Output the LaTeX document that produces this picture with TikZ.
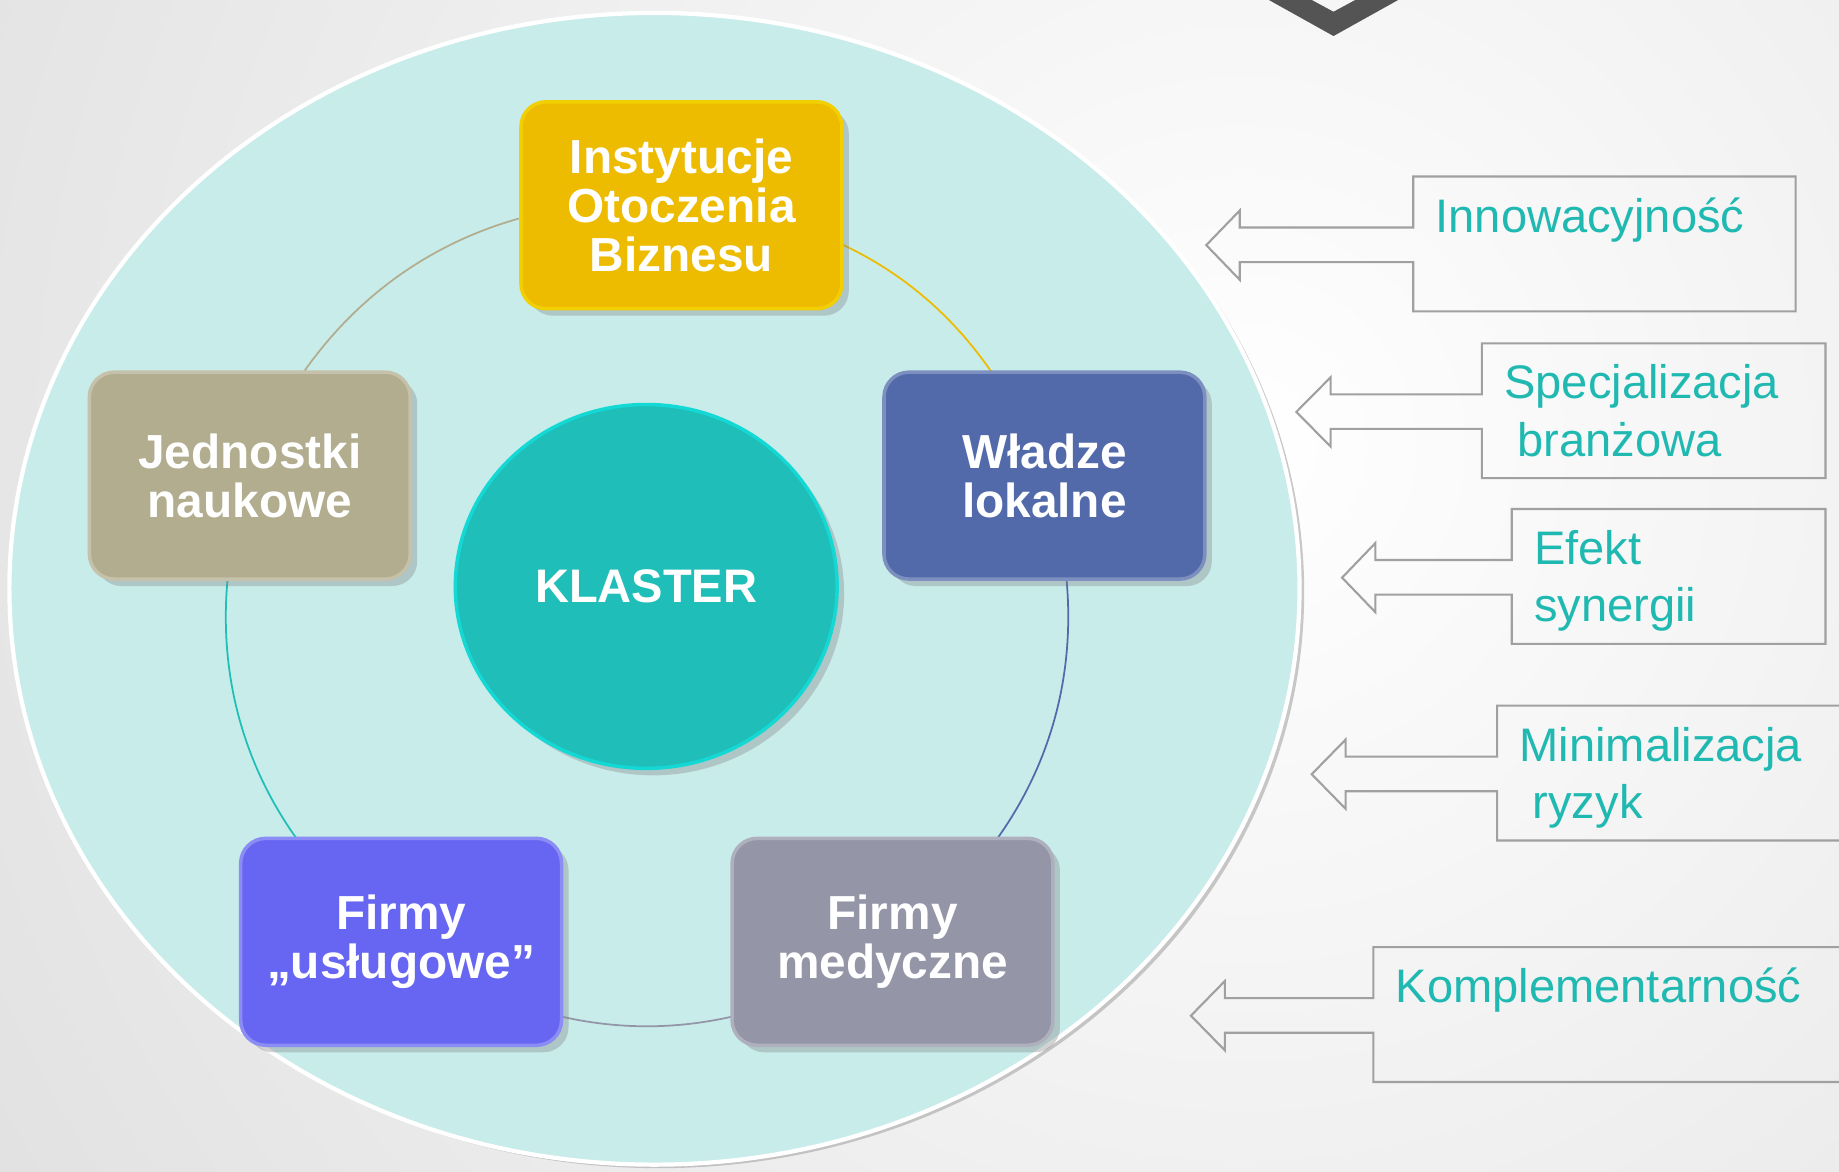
\documentclass[tikz,border=0pt]{standalone}
\usepackage{fontspec}
\setmainfont{Liberation Sans}
\usetikzlibrary{positioning}
\usetikzlibrary{shapes.geometric}
\usetikzlibrary{shadows}
\definecolor{tlo}{HTML}{C8ECEA}
\definecolor{morski}{HTML}{1FBEB8}
\definecolor{zloty}{HTML}{EDBB00}
\definecolor{granat}{HTML}{526AAA}
\definecolor{szary}{HTML}{9496A8}
\definecolor{fiolet}{HTML}{6666F2}
\definecolor{oliwka}{HTML}{B1AD8E}
\definecolor{napis}{HTML}{20B9B2}
\definecolor{ramka}{HTML}{A0A0A0}
\pgfdeclarelayer{back}
\pgfdeclarelayer{ring}
\pgfsetlayers{back,ring,main}
\tikzset{box/.style={rounded corners=0.25cm, minimum width=3.21cm, minimum height=2.07cm, align=center, text=white, line width=1pt,
  font=\fontsize{13.6}{14}\selectfont\bfseries, drop shadow={shadow xshift=0.7mm, shadow yshift=-0.7mm, opacity=0.35}}}
\tikzset{rg/.style={line width=0.5pt}}
\tikzset{callout/.style={draw=ramka, line width=0.6pt}}
\tikzset{cltext/.style={anchor=base west, inner sep=0pt, text=napis, align=left, font=\fontsize{13.4}{16.3}\selectfont}}

\begin{document}
\begin{tikzpicture}[x=0.011728cm, y=-0.011728cm]
\useasboundingbox (0,0) rectangle (1568,998.5);

\begin{pgfonlayer}{back}
\clip (0,0) rectangle (1568,998.5);
\fill[gray!28] (0,0) rectangle (1568,998.5);
\shade[inner color=white, outer color=gray!28] (1060,380) circle (1500);
\fill[black!67] (1064,-10) -- (1100,-10) -- (1137,10) -- (1174,-10) -- (1210,-10) -- (1137,30.7) -- cycle;
\fill[gray!70, opacity=0.6] (562,505) ellipse [x radius=550, y radius=491];
\filldraw[fill=tlo, draw=white, line width=1.2pt] (558,502) ellipse [x radius=550, y radius=491];
\end{pgfonlayer}

\node[ellipse, fill=morski, draw=morski!60!cyan, line width=1pt, minimum width=3.82cm, minimum height=3.64cm,
  text=white, font=\fontsize{13.4}{14}\selectfont\bfseries,
  drop shadow={shadow xshift=0.7mm, shadow yshift=-0.7mm, opacity=0.35}] (klaster) at (551,500) {KLASTER};

\node[box, fill=zloty, draw=zloty!70!yellow] (iob) at (581,175) {Instytucje\\Otoczenia\\Biznesu};
\node[box, fill=granat, draw=granat!75!white] (wladze) at (890.5,405.5) {Władze\\lokalne};
\node[box, fill=szary, draw=szary!75!white] (medyczne) at (761,803) {Firmy\\medyczne};
\node[box, fill=fiolet, draw=fiolet!75!white] (uslugowe) at (342,803) {Firmy\\„usługowe”};
\node[box, fill=oliwka, draw=oliwka!75!white] (jednostki) at (213,405.5) {Jednostki\\naukowe};

% ring between the boxes
\begin{pgfonlayer}{ring}
\draw[rg, oliwka] (jednostki.center) to[bend left=37.5] (iob.center);
\draw[rg, zloty] (iob.center) to[bend left=33] (wladze.center);
\draw[rg, granat] (wladze.center) to[bend left=36.5] (medyczne.center);
\draw[rg, szary] (medyczne.center) to[bend left=36] (uslugowe.center);
\draw[rg, morski] (uslugowe.center) to[bend left=36.5] (jednostki.center);
\end{pgfonlayer}

% arrow boxes on the right (\dy: base of the last line)
\foreach \l/\r/\t/\hb/\tip/\dy/\nm/\txt in {
  1205/1531/150.5/1057/1028.5/0/innow/{Innowacyjność},
  1263.5/1556.5/292.7/1134.5/1105.3/48.8/spec/{Specjalizacja\\\hspace*{0.28em}branżowa},
  1289/1556.5/434/1172.7/1144.3/48.8/efekt/{Efekt\\synergii},
  1276.5/1590/601.6/1147.3/1118.4/48.8/minim/{Minimalizacja\\\hspace*{0.28em}ryzyk},
  1171/1590/807.5/1044.3/1015.4/0/kompl/{Komplementarność}}
{
  \draw[callout] (\l,\t) -- (\r,\t) -- (\r,\t+115) -- (\l,\t+115) -- (\l,\t+73) -- (\hb,\t+73) -- (\hb,\t+88)
    -- (\tip,\t+58.5) -- (\hb,\t+29) -- (\hb,\t+43.5) -- (\l,\t+43.5) -- cycle;
  \node[cltext] (\nm) at (\l+18.5,\t+47.3+\dy) {\txt};
}
\end{tikzpicture}
\end{document}
